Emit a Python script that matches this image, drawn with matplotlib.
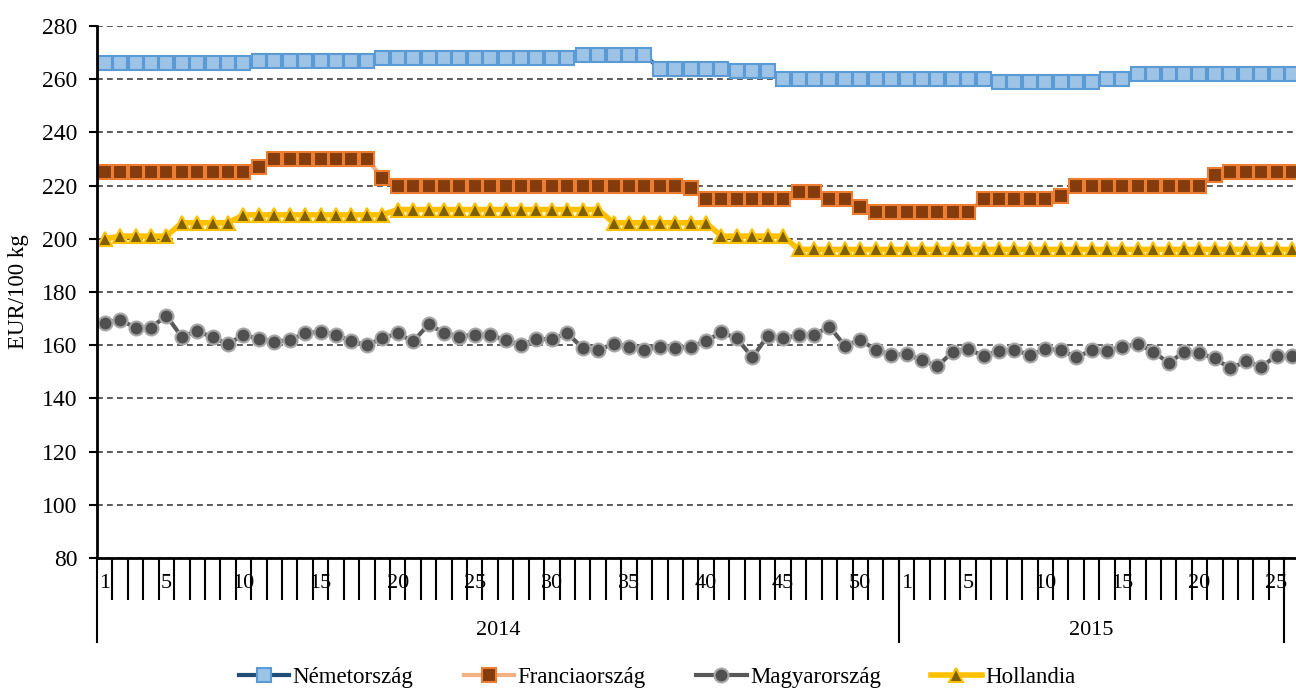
import matplotlib
matplotlib.use("Agg")
import matplotlib.pyplot as plt
from matplotlib.transforms import blended_transform_factory

plt.rcParams['font.family'] = ['Liberation Serif', 'DejaVu Serif']

# 2014: weeks 1-52, 2015: weeks 1-26
weeks_2014 = list(range(1, 53))
weeks_2015 = list(range(1, 27))
years = ['2014', '2015']

nemetorszag = ([266] * 10 + [267] * 8 + [268] * 13 + [269] * 5 + [264] * 5 + [263] * 3
               + [260] * 14 + [259] * 7 + [260] * 2 + [262] * 11)
franciaorszag = ([225] * 10 + [227] + [230] * 7 + [223] + [220] * 19 + [219] + [215] * 6
                 + [217.5] * 2 + [215] * 2 + [212] + [210] * 7 + [215] * 5 + [216]
                 + [220] * 9 + [224] + [225] * 5)
magyarorszag = [168.5, 169.5, 166.6, 166.6, 171.1, 163.1, 165.4, 162.9, 160.4, 163.9,
                162.3, 161.3, 161.9, 164.5, 165.1, 163.9, 161.4, 160.0, 162.6, 164.5,
                161.4, 167.8, 164.7, 163.2, 164.0, 163.9, 161.9, 160.0, 162.3, 162.3,
                164.5, 158.9, 158.3, 160.4, 159.5, 158.3, 159.5, 159.1, 159.4, 161.6,
                164.8, 162.6, 155.4, 163.5, 162.6, 163.8, 163.9, 167.0, 159.8, 162.0,
                158.3, 156.4,
                156.6, 154.4, 152.0, 157.6, 158.5, 156.0, 157.9, 158.1, 156.4, 158.5,
                158.3, 155.4, 158.1, 157.9, 159.4, 160.4, 157.6, 153.3, 157.5, 157.0,
                155.0, 151.3, 153.9, 151.9, 156.0, 156.0]
hollandia = [200] + [201] * 4 + [206] * 4 + [209] * 10 + [211] * 14 + [206] * 7 + [201] * 5 + [196] * 33

series = [
    ('Németország', nemetorszag, dict(color='#1F4E79', lw=3, marker='s', ms=9.8,
                                      mfc='#9DC3E6', mec='#5B9BD5', mew=1.5)),
    ('Franciaország', franciaorszag, dict(color='#F4B183', lw=3, marker='s', ms=9.8,
                                          mfc='#843C0C', mec='#ED7D31', mew=1.5)),
    ('Magyarország', magyarorszag, dict(color='#595959', lw=3, marker='o', ms=10,
                                        mfc='#505050', mec='#A6A6A6', mew=1.5)),
    ('Hollandia', hollandia, dict(color='#FFC000', lw=4, marker='^', ms=10.5,
                                  mfc='#7F6000', mec='#FFC000', mew=1.5)),
]

week_labels = [str(w) for w in weeks_2014] + [str(w) for w in weeks_2015]
n = len(week_labels)
x = [i + 0.5 for i in range(n)]

fig = plt.figure(figsize=(12.96, 6.89), dpi=100)
ax = fig.add_axes([97 / 1296, 131 / 689, 1 - 97 / 1296, 532 / 689])

for name, vals, style in series:
    ax.plot(x, vals, label=name, **style)

ax.set_xlim(0, 77.76)
ax.set_ylim(80, 280)
ax.set_yticks(range(80, 281, 20))
ax.yaxis.grid(True, linestyle=(0, (3.5, 2.5)), color='#404040', lw=1.2)
ax.set_axisbelow(True)
for s in ['top', 'right']:
    ax.spines[s].set_visible(False)
ax.spines['left'].set_linewidth(2)
ax.spines['bottom'].set_linewidth(2)
ax.tick_params(axis='y', direction='out', length=6, width=1.5, labelsize=17, pad=8)
ax.set_ylabel('EUR/100 kg', fontsize=16.5)
ax.yaxis.set_label_coords(-0.057, 0.5)

# category boundary ticks
ax.set_xticks(range(1, n))
ax.set_xticklabels([])
ax.tick_params(axis='x', direction='out', length=30, width=1.5)

tr = blended_transform_factory(ax.transData, ax.transAxes)
for i, lab in enumerate(week_labels):
    if int(lab) == 1 or int(lab) % 5 == 0:
        ax.text(i + 0.5, -0.047, lab, transform=tr, ha='center', va='center',
                fontsize=16, clip_on=False)

# year groups
bounds = [0, len(weeks_2014), len(weeks_2014) + len(weeks_2015) - 1]
for b in bounds:
    ax.plot([b, b], [0, -0.158], transform=tr, color='black', lw=1.5, clip_on=False)
for yr, a, b in zip(years, bounds[:-1], bounds[1:]):
    ax.text((a + b) / 2, -0.137, yr, transform=tr, ha='center', va='center',
            fontsize=16, clip_on=False)

fig.legend(loc='center', bbox_to_anchor=(657 / 1296, 0.017), ncol=4, frameon=False,
           fontsize=16.5, handlelength=2.2, handletextpad=0.15, columnspacing=2.2)

fig.savefig('out.png', dpi=100)
